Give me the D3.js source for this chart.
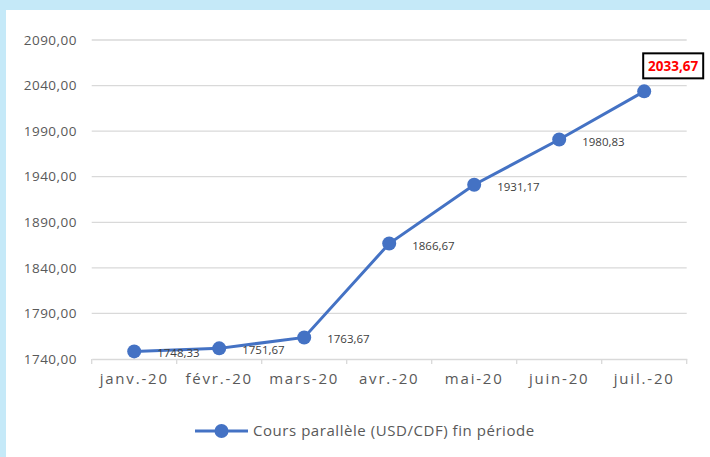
<!DOCTYPE html>
<html>
<head>
<meta charset="utf-8">
<script src="https://cdn.jsdelivr.net/npm/d3@7"></script>
<style>
  body { margin: 0; background: #fff; }
  svg { display: block; font-family: "Open Sans", "Noto Sans", sans-serif; }
</style>
</head>
<body>
<div id="chart"></div>
<script>
"use strict";

// chart data
const months = ["janv.-20", "févr.-20", "mars-20", "avr.-20", "mai-20", "juin-20", "juil.-20"];
const rates = [1748.33, 1751.67, 1763.67, 1866.67, 1931.17, 1980.83, 2033.67];
const yTicks = [1740, 1790, 1840, 1890, 1940, 1990, 2040, 2090];
const seriesName = "Cours parallèle (USD/CDF) fin période";

const W = 710, H = 457;
const blue = "#4472c4";
const fmt = (v) => v.toFixed(2).replace(".", ",");

const svg = d3.select("#chart").append("svg")
	.attr("width", W)
	.attr("height", H);

// light blue frame at top + left
svg.append("rect").attr("width", W).attr("height", H).attr("fill", "#c5e9f8");
svg.append("rect").attr("x", 6).attr("y", 10).attr("width", W - 6).attr("height", H - 10).attr("fill", "#fff");

const plot = { left: 91.7, right: 686.7, top: 40, bottom: 359 };

const x = d3.scaleBand()
	.domain(months)
	.range([plot.left, plot.right]);

const y = d3.scaleLinear()
	.domain([1740, 2090])
	.range([plot.bottom, plot.top]);

// gridlines
svg.append("g")
	.selectAll("line")
	.data(yTicks.slice(1))
	.enter()
	.append("line")
	.attr("x1", plot.left)
	.attr("x2", plot.right)
	.attr("y1", (d) => y(d))
	.attr("y2", (d) => y(d))
	.attr("stroke", "#d9d9d9")
	.attr("stroke-width", 1.3);

// y axis labels
svg.append("g")
	.selectAll("text")
	.data(yTicks)
	.enter()
	.append("text")
	.attr("x", 77)
	.attr("y", (d) => y(d))
	.attr("dy", "0.35em")
	.attr("text-anchor", "end")
	.attr("font-size", "13.5px")
	.attr("letter-spacing", "0.5px")
	.attr("fill", "#595959")
	.text(fmt);

// x axis
const xAxis = svg.append("g")
	.attr("transform", `translate(0,${plot.bottom})`)
	.call(d3.axisBottom(x).tickSize(0).tickPadding(14));
xAxis.select(".domain").attr("stroke", "#d9d9d9").attr("stroke-width", 1.3);
xAxis.selectAll("text")
	.attr("font-size", "15px")
	.attr("fill", "#595959")
	.attr("font-family", "'Open Sans', 'Noto Sans', sans-serif")
	.attr("letter-spacing", "1.8px");

// category separator ticks
svg.append("g")
	.selectAll("line")
	.data(months.map((m) => x(m)).concat([plot.right]))
	.enter()
	.append("line")
	.attr("x1", (d) => d)
	.attr("x2", (d) => d)
	.attr("y1", plot.bottom)
	.attr("y2", plot.bottom + 5)
	.attr("stroke", "#d9d9d9")
	.attr("stroke-width", 1.3);

const cx = (i) => x(months[i]) + x.bandwidth() / 2;

// series line
const line = d3.line()
	.x((d, i) => cx(i))
	.y((d) => y(d));

svg.append("path")
	.datum(rates)
	.attr("d", line)
	.attr("fill", "none")
	.attr("stroke", blue)
	.attr("stroke-width", 3);

svg.append("g")
	.selectAll("circle")
	.data(rates)
	.enter()
	.append("circle")
	.attr("cx", (d, i) => cx(i))
	.attr("cy", (d) => y(d))
	.attr("r", 7)
	.attr("fill", blue);

// data labels (last one highlighted in a box)
svg.append("g")
	.selectAll("text")
	.data(rates.slice(0, -1))
	.enter()
	.append("text")
	.attr("x", (d, i) => cx(i) + 23)
	.attr("y", (d) => y(d) + 2)
	.attr("dy", "0.35em")
	.attr("font-size", "11.5px")
	.attr("fill", "#404040")
	.text(fmt);

const last = rates.length - 1;
const bx = cx(last) - 1, by = y(rates[last]) - 38;
svg.append("rect")
	.attr("x", bx)
	.attr("y", by)
	.attr("width", 60)
	.attr("height", 25)
	.attr("fill", "#fff")
	.attr("stroke", "#000")
	.attr("stroke-width", 2);
svg.append("text")
	.attr("x", bx + 30)
	.attr("y", by + 12.5)
	.attr("dy", "0.35em")
	.attr("text-anchor", "middle")
	.attr("font-size", "13.5px")
	.attr("font-weight", "bold")
	.attr("fill", "#ff0000")
	.text(fmt(rates[last]));

// legend
const lg = svg.append("g").attr("transform", "translate(195,431)");
lg.append("line").attr("x1", 0).attr("x2", 53).attr("stroke", blue).attr("stroke-width", 3);
lg.append("circle").attr("cx", 26.5).attr("r", 7).attr("fill", blue);
lg.append("text")
	.attr("x", 58)
	.attr("dy", "0.35em")
	.attr("font-size", "15px")
	.attr("letter-spacing", "0.55px")
	.attr("fill", "#595959")
	.text(seriesName);
</script>
</body>
</html>
